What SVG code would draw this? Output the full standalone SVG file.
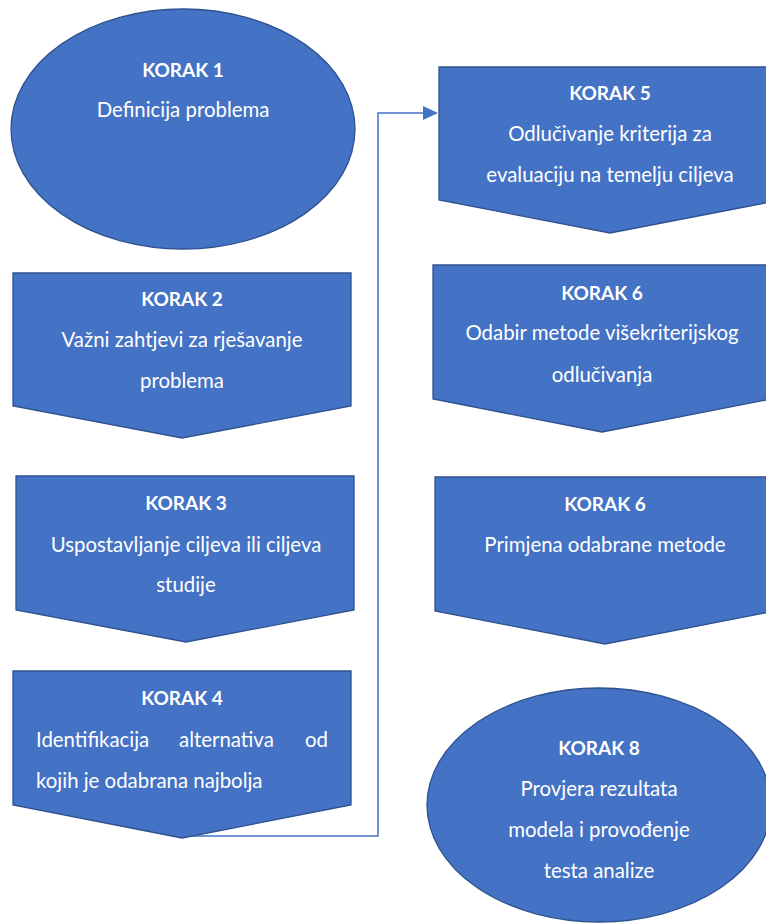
<svg xmlns="http://www.w3.org/2000/svg" width="766" height="923" viewBox="0 0 766 923">
<style>
.shape{fill:#4472C4;stroke:#2F528F;stroke-width:1.3}
.t{font-family:Lato,"Open Sans","Liberation Sans",sans-serif;fill:#FFFFFF;font-size:20.4px;text-anchor:middle}
.b{font-weight:bold;font-size:19px}
.conn{fill:none;stroke:#4472C4;stroke-width:1.5}
</style>
<rect width="766" height="923" fill="#FFFFFF"/>
<g id="connectors">
<path class="conn" d="M183,836 H378 V113 H425"/>
<path d="M423,106 L438,113 L423,120 Z" fill="#4472C4"/>
</g>
<g id="korak1">
<ellipse class="shape" cx="183" cy="129" rx="172" ry="120"/>
<text class="t b" x="183" y="77">KORAK 1</text>
<text class="t" x="183" y="117">Definicija problema</text>
</g>
<g id="korak2">
<path class="shape" d="M13,273 H351 V406 L182,438 L13,406 Z"/>
<text class="t b" x="182" y="306">KORAK 2</text>
<text class="t" x="182" y="347">Važni zahtjevi za rješavanje</text>
<text class="t" x="182" y="388">problema</text>
</g>
<g id="korak3">
<path class="shape" d="M16,476 H354 V610 L186,642 L16,610 Z"/>
<text class="t b" x="186" y="510">KORAK 3</text>
<text class="t" x="186" y="552">Uspostavljanje ciljeva ili ciljeva</text>
<text class="t" x="186" y="592">studije</text>
</g>
<g id="korak4">
<path class="shape" d="M13,671 H351 V805 L182,838 L13,805 Z"/>
<text class="t b" x="182" y="705">KORAK 4</text>
<text class="t" style="text-anchor:start"><tspan x="36" y="747">Identifikacija</tspan><tspan x="179" y="747">alternativa</tspan><tspan x="305" y="747">od</tspan></text>
<text class="t" style="text-anchor:start" x="36" y="788">kojih je odabrana najbolja</text>
</g>
<g id="korak5">
<path class="shape" d="M439,67 H781 V200 L610,233 L439,200 Z"/>
<text class="t b" x="610" y="100">KORAK 5</text>
<text class="t" x="610" y="141">Odlučivanje kriterija za</text>
<text class="t" x="610" y="182">evaluaciju na temelju ciljeva</text>
</g>
<g id="korak6a">
<path class="shape" d="M433,265 H771 V399 L602,432 L433,399 Z"/>
<text class="t b" x="602" y="300">KORAK 6</text>
<text class="t" x="602" y="340">Odabir metode višekriterijskog</text>
<text class="t" x="602" y="382">odlučivanja</text>
</g>
<g id="korak6b">
<path class="shape" d="M435,477 H775 V611 L605,644 L435,611 Z"/>
<text class="t b" x="605" y="511">KORAK 6</text>
<text class="t" x="605" y="552">Primjena odabrane metode</text>
</g>
<g id="korak8">
<ellipse class="shape" cx="599" cy="805" rx="172" ry="117"/>
<text class="t b" x="599" y="755">KORAK 8</text>
<text class="t" x="599" y="796">Provjera rezultata</text>
<text class="t" x="599" y="837">modela i provođenje</text>
<text class="t" x="599" y="878">testa analize</text>
</g>
</svg>
